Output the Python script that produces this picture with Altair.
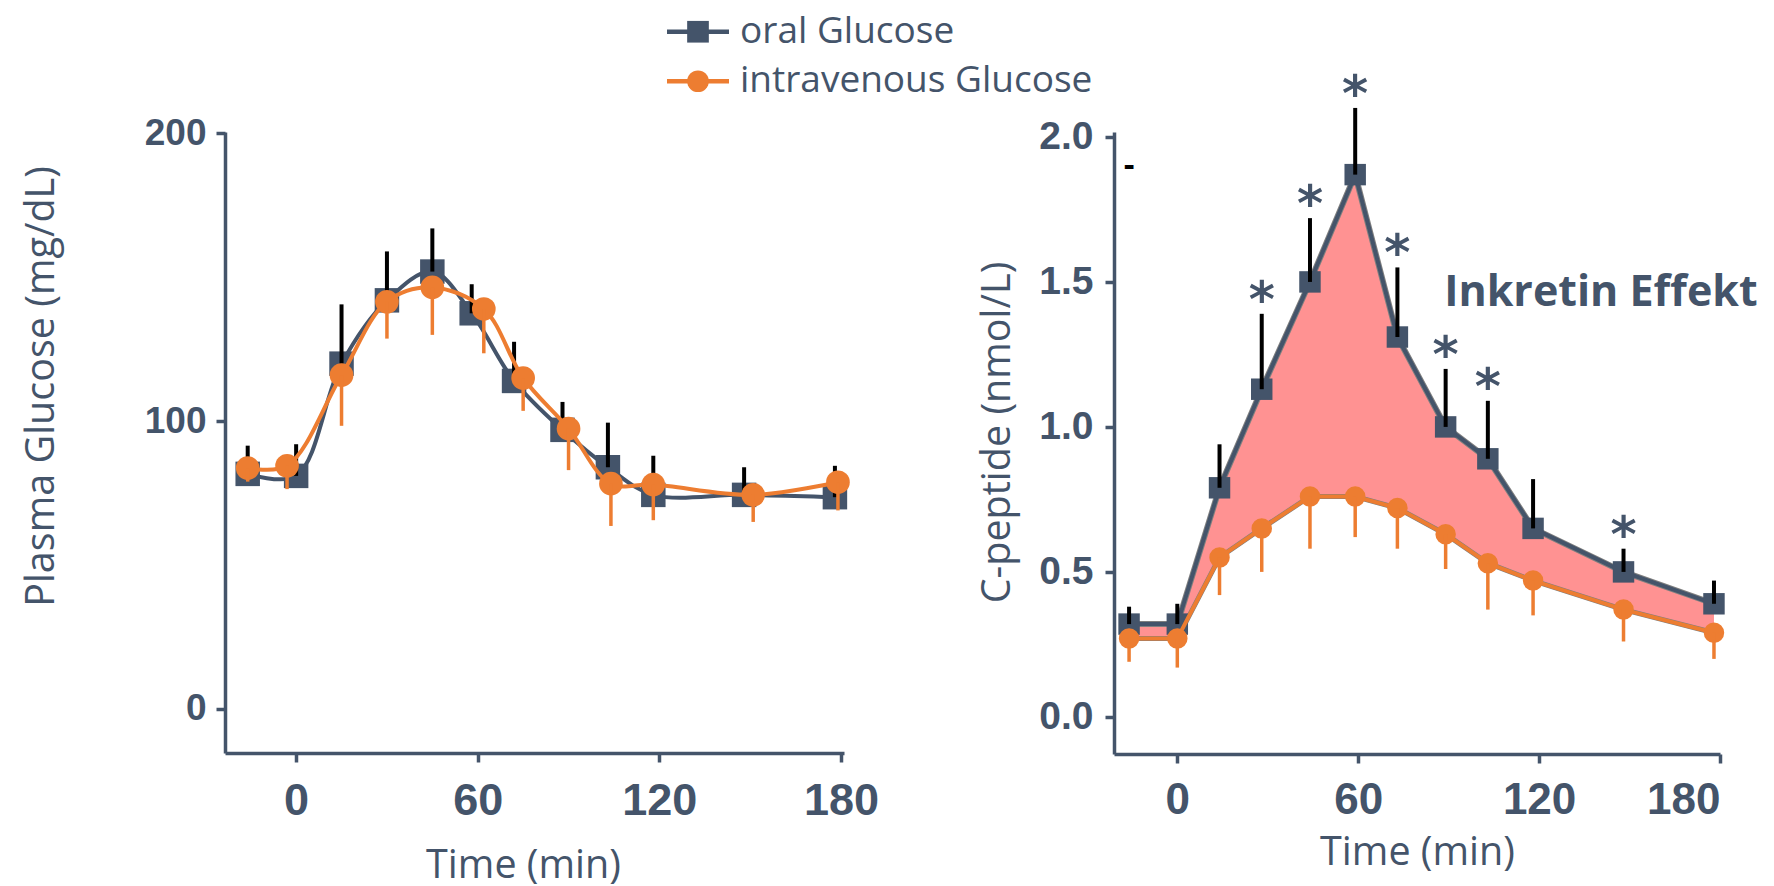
import altair as alt
import pandas as pd

SLATE = "#44546A"
ORANGE = "#ED7D31"
PINK = "#FF9292"
GREY = "#7F7F7F"

series = ["oral Glucose", "intravenous Glucose"]

# Plasma glucose (mg/dL): oral load (mean, upper SD) and intravenous load (mean, lower SD)
glu_t_oral = [-16, 0, 15, 30, 45, 58, 72, 88, 103, 118, 148, 178]
glu_oral = [81.7, 81, 120, 142, 152, 137.5, 114, 97, 84, 74.4, 74.4, 73.6]
glu_oral_hi = [91.5, 92, 140.6, 159, 167, 147.6, 127.6, 106.7, 99.5, 88, 84, 84.5]
glu_t_iv = [-16, -3, 15, 30, 45, 62, 75, 90, 104, 118, 151, 179]
glu_iv = [83.7, 84.5, 116, 141.5, 146.5, 139, 115, 97.4, 78.3, 78, 74.4, 78.8]
glu_iv_lo = [79, 76.4, 98.4, 128.7, 130, 123.6, 103.6, 83, 63.6, 65.6, 65, 69]

# C-peptide (nmol/L)
cp_t = [-16, 0, 14, 28, 44, 59, 73, 89, 103, 118, 148, 178]
cp_oral = [0.32, 0.32, 0.79, 1.13, 1.50, 1.87, 1.31, 1.00, 0.89, 0.65, 0.50, 0.39]
cp_oral_hi = [0.38, 0.39, 0.94, 1.39, 1.72, 2.10, 1.55, 1.20, 1.09, 0.82, 0.58, 0.47]
cp_iv = [0.27, 0.27, 0.55, 0.65, 0.76, 0.76, 0.72, 0.63, 0.53, 0.47, 0.37, 0.29]
cp_iv_lo = [0.19, 0.17, 0.42, 0.50, 0.58, 0.62, 0.58, 0.51, 0.37, 0.35, 0.26, 0.20]
cp_significant = [False, False, False, True, True, True, True, True, True, False, True, False]

effect_label = "Inkretin Effekt"

LABEL_FONT = "Liberation Sans"
TEXT_FONT = "Open Sans"

# ---------------------------------------------------------------- left panel
glu_o = pd.DataFrame({"t": glu_t_oral, "v": glu_oral, "end": glu_oral_hi})
glu_i = pd.DataFrame({"t": glu_t_iv, "v": glu_iv, "end": glu_iv_lo})

lx = alt.X("t:Q", scale=alt.Scale(domain=[-23.5, 181], nice=False, zero=False),
           axis=alt.Axis(values=[0, 60, 120, 180], title="Time (min)",
                         titleX=298, titleY=124, titleBaseline="alphabetic",
                         labelPadding=16))
ly = alt.Y("v:Q", scale=alt.Scale(domain=[-15.3, 200.5], nice=False, zero=False),
           axis=alt.Axis(values=[0, 100, 200], title="Plasma Glucose (mg/dL)",
                         titleX=-172, titleY=254, titleBaseline="alphabetic",
                         labelFontSize=37, labelPadding=10))

left = alt.layer(
    alt.Chart(glu_o).mark_line(color=SLATE, strokeWidth=4, interpolate="catmull-rom").encode(x=lx, y=ly),
    alt.Chart(glu_o).mark_point(shape="square", filled=True, opacity=1, size=600, color=SLATE).encode(x=lx, y=ly),
    alt.Chart(glu_o).mark_rule(color="black", strokeWidth=4).encode(x=lx, y=ly, y2="end:Q"),
    alt.Chart(glu_i).mark_line(color=ORANGE, strokeWidth=4, interpolate="catmull-rom").encode(x=lx, y=ly),
    alt.Chart(glu_i).mark_point(shape="circle", filled=True, opacity=1, size=560, color=ORANGE).encode(x=lx, y=ly),
    alt.Chart(glu_i).mark_rule(color=ORANGE, strokeWidth=3.5).encode(x=lx, y=ly, y2="end:Q"),
).properties(width=619, height=621)

# --------------------------------------------------------------- right panel
cp = pd.DataFrame({"t": cp_t, "oral": cp_oral, "oral_hi": cp_oral_hi,
                   "iv": cp_iv, "iv_lo": cp_iv_lo, "sig": cp_significant})
cp_sig = cp[cp["sig"]]

rx = alt.X("t:Q", scale=alt.Scale(domain=[-21, 180], nice=False, zero=False),
           axis=alt.Axis(values=[0, 60, 120, 180], title="Time (min)",
                         titleY=110, titleBaseline="alphabetic", labelPadding=15,
                         labelFontSize=44))
ry_scale = alt.Scale(domain=[-0.128, 2.017], nice=False, zero=False)
ry_axis = alt.Axis(values=[0, 0.5, 1.0, 1.5, 2.0], format=".1f", title="C-peptide (nmol/L)",
                   titleX=-105, titleY=300, titleBaseline="alphabetic",
                   labelFontSize=39, labelPadding=12)


def ry(field):
    return alt.Y(f"{field}:Q", scale=ry_scale, axis=ry_axis)


notes = pd.DataFrame({"t": [140.5], "y": [1.462], "txt": [effect_label]})
dash = pd.DataFrame({"t": [-16], "y": [1.90], "txt": ["-"]})

right = alt.layer(
    alt.Chart(cp).mark_area(color=PINK, opacity=1).encode(x=rx, y=ry("oral"), y2="iv:Q"),
    alt.Chart(cp).mark_line(color=GREY, strokeWidth=6).encode(x=rx, y=ry("oral")),
    alt.Chart(cp).mark_line(color=GREY, strokeWidth=5).encode(x=rx, y=ry("iv")),
    alt.Chart(cp).mark_line(color=SLATE, strokeWidth=4).encode(x=rx, y=ry("oral")),
    alt.Chart(cp).mark_point(shape="square", filled=True, opacity=1, size=460, color=SLATE).encode(x=rx, y=ry("oral")),
    alt.Chart(cp).mark_rule(color="black", strokeWidth=4).encode(x=rx, y=ry("oral"), y2="oral_hi:Q"),
    alt.Chart(cp).mark_line(color=ORANGE, strokeWidth=4).encode(x=rx, y=ry("iv")),
    alt.Chart(cp).mark_point(shape="circle", filled=True, opacity=1, size=420, color=ORANGE).encode(x=rx, y=ry("iv")),
    alt.Chart(cp).mark_rule(color=ORANGE, strokeWidth=3.5).encode(x=rx, y=ry("iv"), y2="iv_lo:Q"),
    alt.Chart(cp_sig).mark_text(text="*", font="DejaVu Sans", fontWeight="bold", fontSize=50,
                                color=SLATE, baseline="alphabetic", dy=3).encode(x=rx, y=ry("oral_hi")),
    alt.Chart(dash).mark_text(font=LABEL_FONT, fontWeight="bold", fontSize=34, color="black",
                              baseline="middle").encode(x=rx, y=ry("y"), text="txt:N"),
    alt.Chart(notes).mark_text(font=TEXT_FONT, fontWeight="bold", fontSize=43, color=SLATE,
                               baseline="middle", align="center").encode(x=rx, y=ry("y"), text="txt:N"),
).properties(width=606, height=622)

# -------------------------------------------------------------------- legend
leg = pd.DataFrame({"label": series, "row": [0, 1]})
leg_y = alt.Y("row:Q", axis=None, scale=alt.Scale(domain=[-0.5, 1.5], range=[0, 99], nice=False, zero=False))
leg_color = alt.Color("label:N", scale=alt.Scale(domain=series, range=[SLATE, ORANGE]), legend=None)
leg_shape = alt.Shape("label:N", scale=alt.Scale(domain=series, range=["square", "circle"]), legend=None)

legend = alt.layer(
    alt.Chart(leg).mark_rule(strokeWidth=4.5).encode(
        x=alt.value(442), x2=alt.value(504), y=leg_y, color=leg_color),
    alt.Chart(leg).mark_point(filled=True, opacity=1, size=470).encode(
        x=alt.value(473), y=leg_y, color=leg_color, shape=leg_shape),
    alt.Chart(leg).mark_text(align="left", baseline="middle", font=TEXT_FONT, fontSize=37,
                             color=SLATE).encode(x=alt.value(515), y=leg_y, text="label:N"),
).properties(width=1495, height=99)

panels = alt.hconcat(left, right, spacing=270, bounds="flush")

chart = alt.vconcat(legend, panels, spacing=26, bounds="flush").properties(
    padding={"left": 20, "top": 7, "right": 5, "bottom": 5}
).configure_view(stroke=None).configure_axis(
    grid=False,
    domainColor=SLATE, domainWidth=3.5,
    tickColor=SLATE, tickWidth=3.5, tickSize=9,
    labelFont=LABEL_FONT, labelFontWeight="bold", labelFontSize=45, labelColor=SLATE,
    titleFont=TEXT_FONT, titleFontSize=39.5, titleFontWeight="normal", titleColor=SLATE,
)

chart.save("out.html", embed_options={"renderer": "svg", "actions": False})
